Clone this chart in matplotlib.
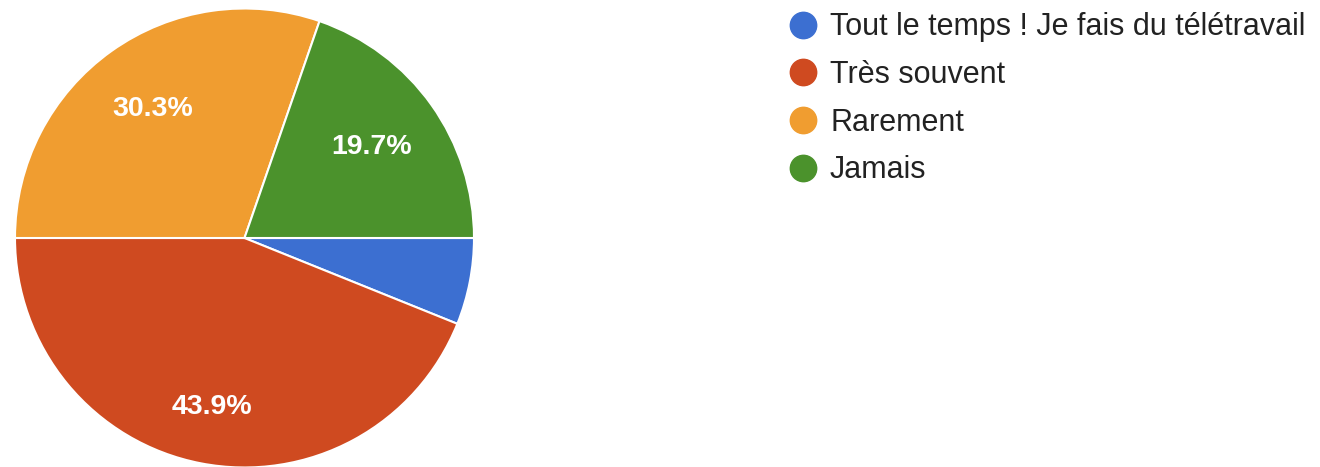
import matplotlib
matplotlib.use("Agg")
import numpy as np
import matplotlib.pyplot as plt
from matplotlib.lines import Line2D

categories = ["Tout le temps ! Je fais du télétravail", "Très souvent", "Rarement", "Jamais"]
values = [6.1, 43.9, 30.3, 19.7]
colors = ["#3c6fd1", "#cf4a20", "#f09d30", "#4b922c"]

plt.rcParams['font.family'] = ['Liberation Sans', 'DejaVu Sans']

W, H = 1320, 467
fig = plt.figure(figsize=(W / 100, H / 100), dpi=100)
cx, cy, r = 244.5, 238, 229.5
ax = fig.add_axes([(cx - r) / W, (H - cy - r) / H, 2 * r / W, 2 * r / H])

def fmt(p):
    return f"{p:.1f}%" if p >= 10 else ""

wedges, texts, autotexts = ax.pie(
    values, colors=colors, startangle=0, counterclock=False,
    autopct=fmt, pctdistance=0.7, radius=1,
    wedgeprops=dict(edgecolor="white", linewidth=1.5),
    textprops=dict(color="white", fontsize=20.5, fontweight="bold"),
)
# label radial distances (style)
label_dist = [0.7, 0.75, 0.69, 0.68]
for w, t, d in zip(wedges, autotexts, label_dist):
    ang = np.deg2rad((w.theta1 + w.theta2) / 2)
    t.set_position((d * np.cos(ang), d * np.sin(ang)))

ax.set_xlim(-1, 1)
ax.set_ylim(-1, 1)
ax.set_aspect("equal")
ax.axis("off")

handles = [Line2D([0], [0], marker="o", linestyle="", markersize=19,
                  markerfacecolor=c, markeredgecolor=c) for c in colors]
leg = fig.legend(handles, categories, loc="upper left",
                 bbox_to_anchor=(772 / W, 1 + 3 / H), frameon=False,
                 fontsize=22, labelspacing=0.58, handletextpad=0.4,
                 handlelength=1.0, borderpad=0)
for t in leg.get_texts():
    t.set_color("#222222")

fig.savefig("out.png", dpi=100)
